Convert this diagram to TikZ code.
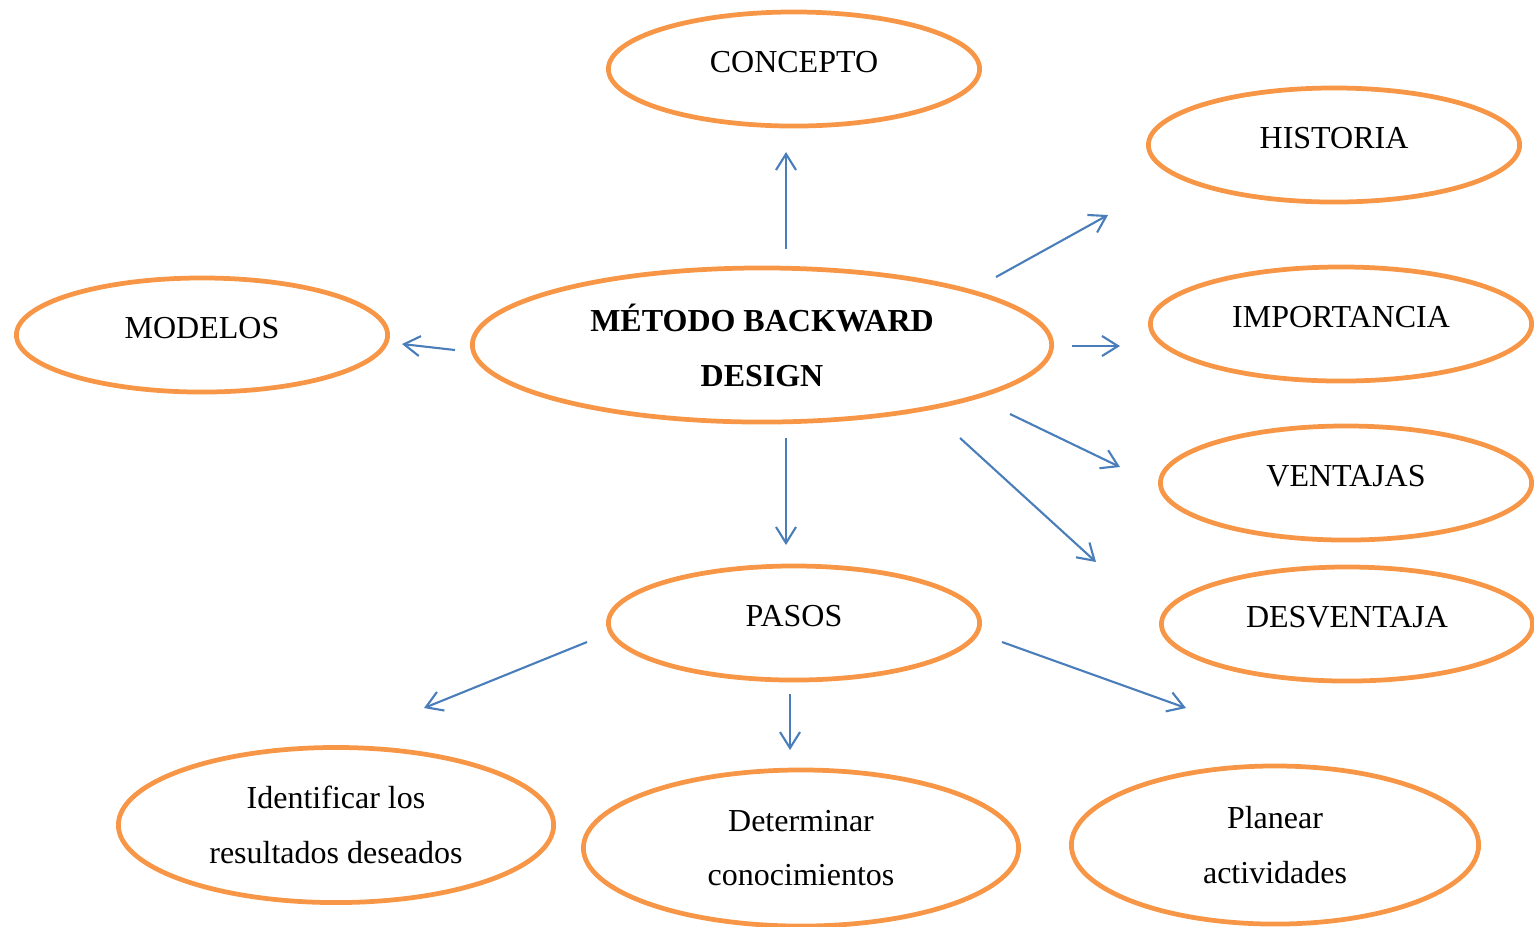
\documentclass[tikz,border=0pt]{standalone}
\usepackage{fontspec}
\setmainfont{Liberation Serif}
\usetikzlibrary{shapes.geometric,arrows.meta}
\definecolor{ovalorange}{HTML}{F79646}
\definecolor{arrowblue}{HTML}{4A7EBB}
\tikzset{
  oval/.style={ellipse, draw=ovalorange, line width=1.35pt, inner sep=0pt,
    minimum width=3.71cm, minimum height=1.14cm,
    font=\fontsize{9.1}{15.6}\selectfont},
  ovalcap/.style={oval, text depth=0.14cm},
  arr/.style={draw=arrowblue, line width=0.6pt,
    -{Straight Barb[length=0.16cm,width=0.2cm,line width=0.6pt]}}
}
\begin{document}
\begin{tikzpicture}[x=0.01cm,y=-0.01cm,line join=round]
  \useasboundingbox (0,0) rectangle (1534,926);
  % centre and branches
  \node[oval, minimum width=5.79cm, minimum height=1.54cm, align=center,
    font=\fontsize{9.1}{15.6}\selectfont\bfseries] (metodo) at (762,345)
    {MÉTODO BACKWARD\\DESIGN};
  \node[ovalcap] (concepto) at (794,69) {CONCEPTO};
  \node[ovalcap] (historia) at (1334,145) {HISTORIA};
  \node[ovalcap] (modelos) at (202,335) {MODELOS};
  \node[ovalcap, minimum width=3.81cm] (importancia) at (1341,324) {IMPORTANCIA};
  \node[ovalcap] (ventajas) at (1346,483) {VENTAJAS};
  \node[ovalcap] (desventaja) at (1347,624) {DESVENTAJA};
  \node[ovalcap] (pasos) at (794,623) {PASOS};
  % steps
  \node[oval, minimum width=4.35cm, minimum height=1.55cm, align=center]
    (identificar) at (336,825) {Identificar los\\resultados deseados};
  \node[oval, minimum width=4.35cm, minimum height=1.56cm, align=center]
    (determinar) at (801,848) {Determinar\\conocimientos};
  \node[oval, minimum width=4.07cm, minimum height=1.58cm, align=center]
    (planear) at (1275,845) {Planear\\actividades};

  \foreach \name/\sx/\sy/\ex/\ey in {
      concepto/786/249/786/152, modelos/455/350/402/344,
      historia/996/277/1108/215, importancia/1072/346/1120/346,
      ventajas/1010/414/1120/467, desventaja/960/438/1096/562,
      pasos/786/438/786/545, identificar/587/642/424/708,
      determinar/790/694/790/750, planear/1002/642/1186/708} {
      \coordinate (\name-s) at (\sx,\sy);
      \coordinate (\name-e) at (\ex,\ey);
      \draw[arr] (\name-s) -- (\name-e);
    }
\end{tikzpicture}
\end{document}
